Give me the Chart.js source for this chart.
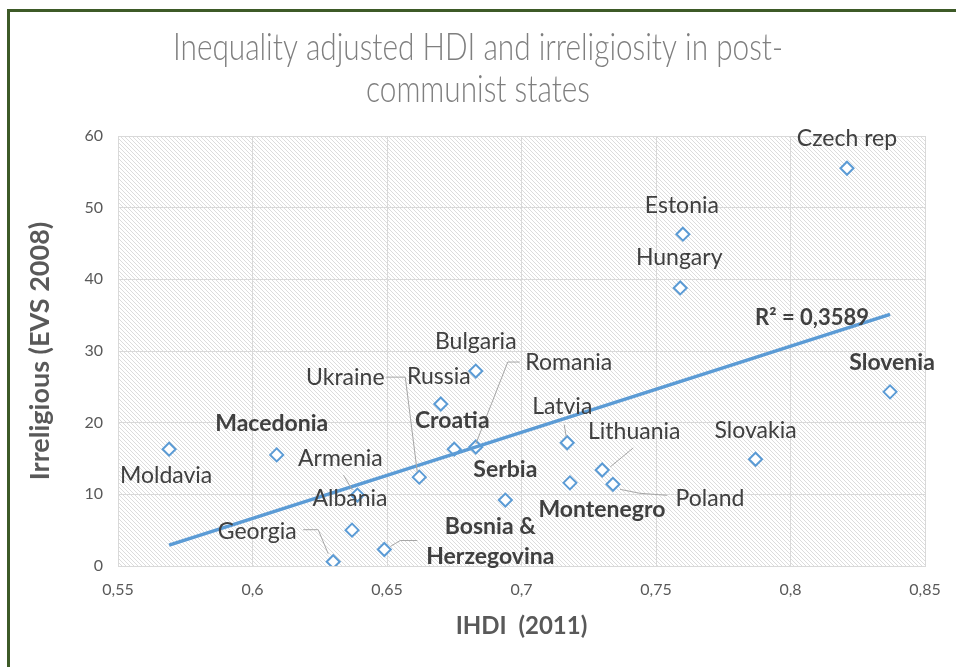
<!DOCTYPE html>
<html><head><meta charset="utf-8">
<script src="https://cdn.jsdelivr.net/npm/chart.js@4"></script>
<style>html,body{margin:0;padding:0;background:#fff}canvas{display:block}</style>
</head><body>
<canvas id="c" width="956" height="667"></canvas>
<script>
// ---------- data ----------
const countries = ['Czech rep','Estonia','Hungary','Slovenia','Bulgaria','Russia','Romania','Croatia','Ukraine','Latvia','Lithuania','Slovakia','Moldavia','Macedonia','Armenia','Serbia','Montenegro','Poland','Albania','Bosnia & Herzegovina','Georgia'];
const ihdi = [0.821,0.760,0.759,0.837,0.683,0.670,0.683,0.675,0.662,0.717,0.730,0.787,0.569,0.609,0.639,0.694,0.718,0.734,0.637,0.649,0.630];
const irreligious = [55.5,46.3,38.8,24.3,27.2,22.6,16.6,16.3,12.4,17.2,13.4,14.9,16.3,15.5,9.9,9.2,11.6,11.4,5.0,2.3,0.6];
const xTickLabels = ['0,55','0,6','0,65','0,7','0,75','0,8','0,85'];
const yTickLabels = ['0','10','20','30','40','50','60'];
const titleLines = ['Inequality adjusted HDI and irreligiosity in post-','communist states'];
const xTitle = 'IHDI  (2011)';
const yTitle = 'Irreligious (EVS 2008)';
const rSquaredText = 'R\u00B2 = 0,3589';
const boldNames = ['Slovenia','Macedonia','Croatia','Serbia','Montenegro','Bosnia & Herzegovina'];

// ---------- label placement (pixel offsets from the marker) ----------
const labelLayout = {
  'Czech rep':{dx:0,dy:-30}, 'Estonia':{dx:-1,dy:-29}, 'Hungary':{dx:-1,dy:-30},
  'Slovenia':{dx:2,dy:-29}, 'Bulgaria':{dx:0,dy:-29}, 'Russia':{dx:-2,dy:-27},
  'Romania':{dx:93,dy:-84, leader:[[0,-3],[32,-85],[44,-85]]},
  'Croatia':{dx:-2,dy:-29},
  'Ukraine':{dx:-74,dy:-100, leader:[[-33,-100],[-14,-100],[-2,-5]]},
  'Latvia':{dx:-5,dy:-36, leader:[[-3,-18],[-1,-6]]},
  'Lithuania':{dx:32,dy:-38, leader:[[31,-22],[8,-3]]},
  'Slovakia':{dx:0,dy:-29}, 'Moldavia':{dx:-3,dy:26}, 'Macedonia':{dx:-5,dy:-31},
  'Armenia':{dx:-17,dy:-36, leader:[[-14,-20],[-5,-5]]},
  'Serbia':{dx:0,dy:-30}, 'Montenegro':{dx:32,dy:27},
  'Poland':{dx:97,dy:14, leader:[[7,5],[27,9],[54,11]]},
  'Albania':{dx:-2,dy:-32},
  'Bosnia & Herzegovina':{dx:106,dy:-8, lines:['Bosnia &','Herzegovina'], leader:[[6,-3],[16,-9],[33,-9]]},
  'Georgia':{dx:-76,dy:-30, leader:[[-30,-32],[-15,-32],[-5,-8]]}
};

// ---------- trendline (least squares on the data) ----------
function regression(xs, ys){
  const n = xs.length;
  const mx = xs.reduce((a,b)=>a+b,0)/n, my = ys.reduce((a,b)=>a+b,0)/n;
  let sxy=0, sxx=0;
  for(let i=0;i<n;i++){ sxy+=(xs[i]-mx)*(ys[i]-my); sxx+=(xs[i]-mx)**2; }
  const slope = sxy/sxx; return {slope, intercept: my - slope*mx};
}
const reg = regression(ihdi, irreligious);
const xMinData = Math.min(...ihdi), xMaxData = Math.max(...ihdi);
const trendPoints = [xMinData, xMaxData].map(x => ({x, y: reg.intercept + reg.slope*x}));

const FONT = 'Lato, "Open Sans", sans-serif';
const BLUE = '#5b9bd5';

function makeHatch(){
  const p = document.createElement('canvas'); p.width = 8; p.height = 8;
  const g = p.getContext('2d');
  g.fillStyle = '#ffffff'; g.fillRect(0,0,8,8);
  g.strokeStyle = '#dcdcdc'; g.lineWidth = 1;
  for(let k=-8;k<=8;k+=4){ g.beginPath(); g.moveTo(k-1,-1); g.lineTo(k+9,9); g.stroke(); }
  return p;
}

const decor = {
  id:'decor',
  beforeDraw(chart){
    const ctx = chart.ctx, a = chart.chartArea;
    ctx.save();
    ctx.fillStyle = '#ffffff'; ctx.fillRect(0,0,chart.width,chart.height);
    ctx.fillStyle = ctx.createPattern(makeHatch(),'repeat');
    ctx.fillRect(a.left, a.top, a.right-a.left, a.bottom-a.top);
    ctx.restore();
  },
  afterDatasetsDraw(chart){
    const ctx = chart.ctx, xs = chart.scales.x, ys = chart.scales.y;
    ctx.save();
    // leaders
    ctx.strokeStyle = '#a6a6a6'; ctx.lineWidth = 1;
    countries.forEach((name,i)=>{
      const L = labelLayout[name]; if(!L || !L.leader) return;
      const px = xs.getPixelForValue(ihdi[i]), py = ys.getPixelForValue(irreligious[i]);
      ctx.beginPath();
      L.leader.forEach((pt,j)=>{ const X=px+pt[0], Y=py+pt[1]; j? ctx.lineTo(X,Y): ctx.moveTo(X,Y); });
      ctx.stroke();
    });
    // labels
    ctx.fillStyle = '#404040'; ctx.textAlign = 'center'; ctx.textBaseline = 'middle';
    countries.forEach((name,i)=>{
      const L = labelLayout[name] || {dx:0,dy:-28};
      const px = xs.getPixelForValue(ihdi[i]), py = ys.getPixelForValue(irreligious[i]);
      const bold = boldNames.includes(name);
      ctx.font = (bold ? 'bold ' : '') + '23px ' + FONT;
      const lines = L.lines || [name];
      const lh = 30;
      lines.forEach((t,j)=>{
        ctx.fillText(t, px+L.dx, py+L.dy + (j-(lines.length-1)/2)*lh);
      });
    });
    // R squared
    const ex = xs.getPixelForValue(trendPoints[1].x), ey = ys.getPixelForValue(trendPoints[1].y);
    ctx.font = 'bold 22px ' + FONT;
    ctx.fillText(rSquaredText, ex-78, ey+4);
    ctx.restore();
  },
  afterDraw(chart){
    const ctx = chart.ctx;
    ctx.save();
    // title (condensed, like the original)
    ctx.fillStyle = '#7f7f7f'; ctx.textAlign='center'; ctx.textBaseline='middle';
    ctx.font = '300 37px ' + FONT;
    const w0 = ctx.measureText(titleLines[0]).width;
    const sx = 610 / w0;
    [[titleLines[0],48],[titleLines[1],90]].forEach(([t,y])=>{
      ctx.save(); ctx.translate(478, y); ctx.scale(sx, 1); ctx.fillText(t, 0, 0); ctx.restore();
    });
    // frame
    ctx.strokeStyle = '#3d5a27'; ctx.lineWidth = 3;
    ctx.beginPath(); ctx.moveTo(8.5, chart.height); ctx.lineTo(8.5, 10.5); ctx.lineTo(chart.width, 10.5); ctx.stroke();
    ctx.restore();
  }
};

new Chart(document.getElementById('c'), {
  type:'scatter',
  data:{ datasets:[
    { label:'Trend', type:'line', data: trendPoints, borderColor: BLUE, borderWidth: 3.5, pointRadius: 0, fill:false, order:0 },
    { label:'Countries', data: countries.map((c,i)=>({x: ihdi[i], y: irreligious[i]})),
      pointStyle:'rectRot', pointRadius: 6.5, pointBorderWidth: 2, borderColor: BLUE, backgroundColor:'#ffffff', order:1 }
  ]},
  options:{
    responsive:false, animation:false, devicePixelRatio:1,
    layout:{ padding:{ left:10, right:31, top:136, bottom:0 } },
    plugins:{ legend:{display:false}, tooltip:{enabled:false}, title:{display:false} },
    scales:{
      x:{ type:'linear', min:0.55, max:0.85,
        ticks:{ stepSize:0.05, color:'#595959', font:{family:FONT, size:16}, padding:14,
          callback:(v)=> xTickLabels[Math.round((v-0.55)/0.05)] },
        grid:{ color:'#d9d9d9', drawTicks:false }, border:{ color:'#d9d9d9' },
        title:{ display:true, text:xTitle, color:'#595959', font:{family:FONT, size:24, weight:'bold'}, padding:{top:0,bottom:26} },
        afterFit:(s)=>{ s.height = 101; } },
      y:{ min:0, max:60,
        ticks:{ stepSize:10, color:'#595959', font:{family:FONT, size:16}, padding:15,
          callback:(v)=> yTickLabels[Math.round(v/10)] },
        grid:{ color:'#d9d9d9', drawTicks:false }, border:{ color:'#d9d9d9' },
        title:{ display:true, text:yTitle, color:'#595959', font:{family:FONT, size:27, weight:'bold'}, padding:{top:14,bottom:0} },
        afterFit:(s)=>{ s.width = 108; } }
    }
  },
  plugins:[decor]
});
</script>
</body></html>
